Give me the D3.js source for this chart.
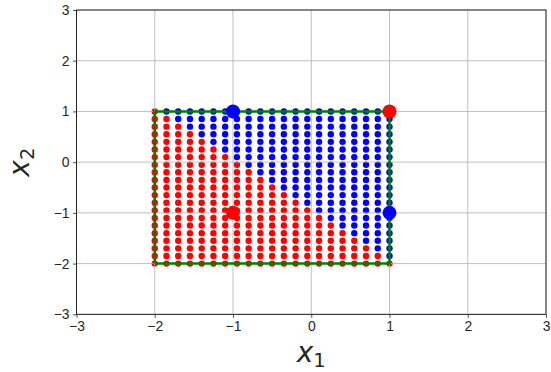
<!DOCTYPE html>
<html>
<head>
    <meta charset="utf-8">
    <style>
        body {
            margin: 0;
            background: white;
        }

        svg {
            font-family: 'DejaVu Sans', sans-serif;
        }

        .tick text {
            font-size: 13.9px;
            fill: #262626;
        }

        .tick line {
            stroke: #262626;
            stroke-width: 0.8;
        }

        .domain {
            display: none;
        }

        .grid line {
            stroke: #b0b0b0;
            stroke-width: 0.8;
        }

        .axis-label {
            font-size: 28px;
            font-style: italic;
            fill: #262626;
        }
    </style>
</head>

<body>
    <svg width="551" height="372"></svg>
</body>

<script src="https://d3js.org/d3.v7.min.js"></script>

<script>
    // mesh of test points, same coordinates on both axes
    let gridX = [-2, -1.85, -1.7, -1.55, -1.4, -1.25, -1.1, -0.95, -0.8, -0.65, -0.5,
        -0.35, -0.2, -0.05, 0.1, 0.25, 0.4, 0.55, 0.7, 0.85, 1];
    let gridY = [-2, -1.85, -1.7, -1.55, -1.4, -1.25, -1.1, -0.95, -0.8, -0.65, -0.5,
        -0.35, -0.2, -0.05, 0.1, 0.25, 0.4, 0.55, 0.7, 0.85, 1];

    // how many dots (counted from the bottom) are red in each column
    let redPerColumn = [21, 20, 19, 18, 17, 16, 15, 14, 13, 12, 11, 10, 9, 8, 7, 6, 5, 4, 3, 2, 1];

    // training points
    let trainX = [-1, 1, -1, 1];
    let trainY = [1, 1, -1, -1];
    let trainClass = ["blue", "red", "red", "blue"];

    // box around the mesh
    let boxX = [-2, 1, 1, -2, -2];
    let boxY = [-2, -2, 1, 1, -2];

    let ticks = [-3, -2, -1, 0, 1, 2, 3];

    let svg = d3.select("svg");

    let margin = { top: 10, right: 5, bottom: 57.7, left: 76.5 };
    let width = 551;
    let height = 372;

    let x = d3.scaleLinear()
        .domain([-3, 3])
        .range([margin.left, width - margin.right]);

    let y = d3.scaleLinear()
        .domain([-3, 3])
        .range([height - margin.bottom, margin.top]);

    let mesh = [];
    gridX.forEach(function (gx, i) {
        gridY.forEach(function (gy, j) {
            mesh.push({ x: gx, y: gy, c: j < redPerColumn[i] ? "red" : "blue" });
        });
    });

    // mesh dots
    svg.append("g")
        .selectAll("circle")
        .data(mesh)
        .join("circle")
        .attr("cx", d => x(d.x))
        .attr("cy", d => y(d.y))
        .attr("r", 3.2)
        .style("fill", d => d.c == "red" ? "#ff0000" : "#0000ff");

    // grid lines on top of the dots
    svg.append("g")
        .attr("class", "grid")
        .selectAll("line.gx")
        .data(ticks)
        .join("line")
        .attr("x1", d => x(d)).attr("x2", d => x(d))
        .attr("y1", y(-3)).attr("y2", y(3));

    svg.select(".grid")
        .selectAll("line.gy")
        .data(ticks)
        .join(enter => enter.append("line").attr("class", "gy"))
        .attr("x1", x(-3)).attr("x2", x(3))
        .attr("y1", d => y(d)).attr("y2", d => y(d));

    // spines
    svg.append("rect")
        .attr("x", x(-3))
        .attr("y", y(3))
        .attr("width", x(3) - x(-3))
        .attr("height", y(-3) - y(3))
        .style("fill", "none")
        .style("stroke", "#000")
        .style("stroke-width", 0.8);

    let fmt = d => d < 0 ? "\u2212" + Math.abs(d) : d;

    svg.append("g")
        .attr("class", "x axis")
        .attr("transform", `translate(0,${y(-3)})`)
        .call(d3.axisBottom(x).tickValues(ticks).tickSize(3.5).tickPadding(3.5).tickFormat(fmt));

    svg.append("g")
        .attr("class", "y axis")
        .attr("transform", `translate(${x(-3)},0)`)
        .call(d3.axisLeft(y).tickValues(ticks).tickSize(3.5).tickPadding(3.5).tickFormat(fmt));

    // green box
    svg.append("path")
        .datum(boxX.map((d, i) => [d, boxY[i]]))
        .attr("d", d3.line().x(d => x(d[0])).y(d => y(d[1])))
        .style("fill", "none")
        .style("stroke", "#008000")
        .style("stroke-width", 2.5);

    // training points
    svg.append("g")
        .selectAll("circle")
        .data(trainX.map((d, i) => ({ x: d, y: trainY[i], c: trainClass[i] })))
        .join("circle")
        .attr("cx", d => x(d.x))
        .attr("cy", d => y(d.y))
        .attr("r", 7)
        .style("fill", d => d.c == "red" ? "#ff0000" : "#0000ff");

    // axis labels
    let xl = svg.append("text")
        .attr("class", "axis-label")
        .attr("text-anchor", "middle")
        .attr("x", x(0))
        .attr("y", 362);
    xl.append("tspan").text("x");
    xl.append("tspan").attr("dy", 5).style("font-size", "19.5px").style("font-style", "normal").text("1");

    let yl = svg.append("text")
        .attr("class", "axis-label")
        .attr("text-anchor", "middle")
        .attr("transform", `translate(29,${y(0)}) rotate(-90)`);
    yl.append("tspan").text("x");
    yl.append("tspan").attr("dy", 5).style("font-size", "19.5px").style("font-style", "normal").text("2");
</script>
</html>
